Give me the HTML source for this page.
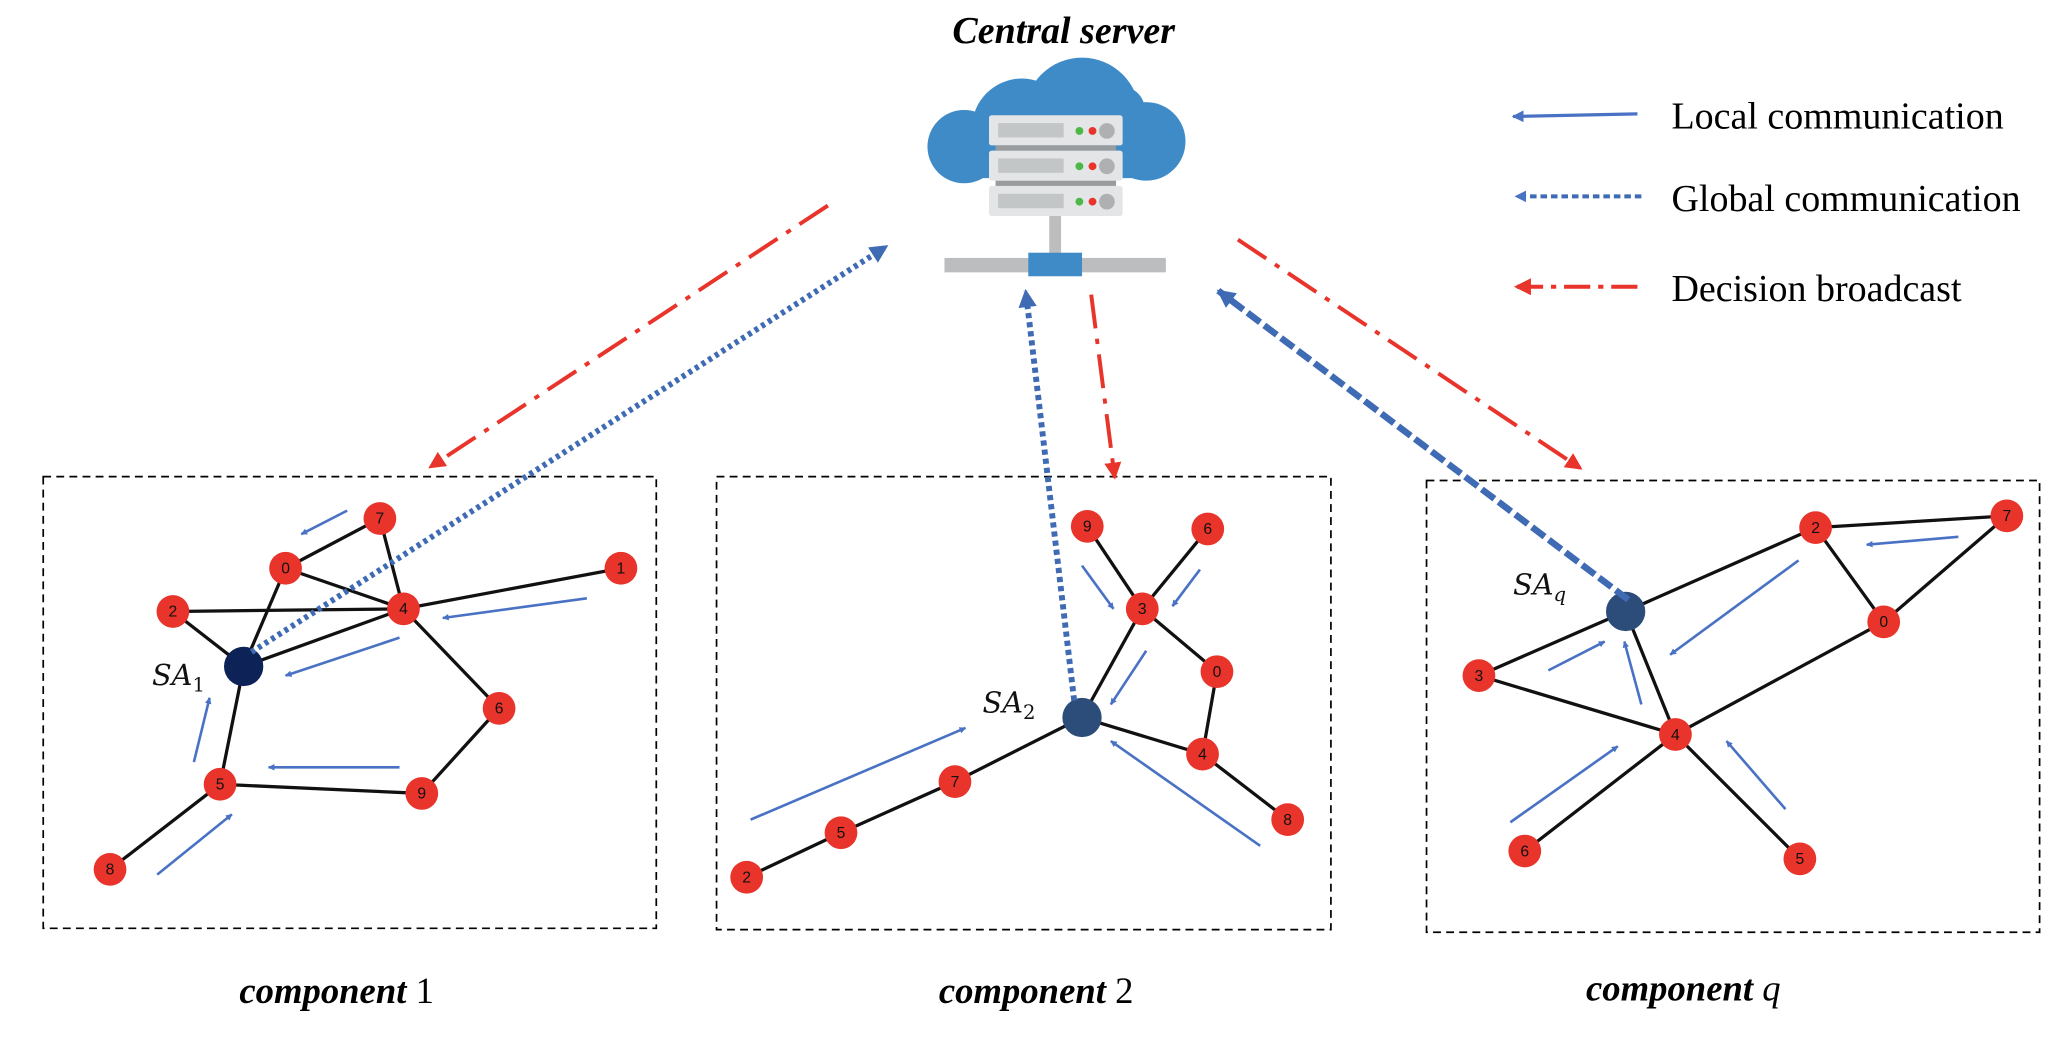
<!DOCTYPE html>
<html><head><meta charset="utf-8"><style>
html,body{margin:0;padding:0;background:#fff;width:2054px;height:1054px;overflow:hidden}
svg{display:block}
.t{font-family:"Liberation Serif",serif}
</style></head><body>
<svg width="2054" height="1054" viewBox="0 0 1568 805" preserveAspectRatio="none" xmlns="http://www.w3.org/2000/svg">
<defs>
<marker id="ab" viewBox="0 0 10 10" refX="9" refY="5" markerWidth="5" markerHeight="5" orient="auto" markerUnits="userSpaceOnUse"><path d="M0,0L10,5L0,10z" fill="#4a72c4"/></marker>
<marker id="ab2" viewBox="0 0 10 10" refX="9" refY="5" markerWidth="14" markerHeight="14" orient="auto" markerUnits="userSpaceOnUse"><path d="M0,0L10,5L0,10z" fill="#3f6bb5"/></marker>
<marker id="ar" viewBox="0 0 10 10" refX="9" refY="5" markerWidth="13" markerHeight="13" orient="auto" markerUnits="userSpaceOnUse"><path d="M0,0L10,5L0,10z" fill="#e8342a"/></marker>
<marker id="al" viewBox="0 0 10 10" refX="9" refY="5" markerWidth="9" markerHeight="9" orient="auto" markerUnits="userSpaceOnUse"><path d="M0,0L10,5L0,10z" fill="#4a72c4"/></marker>
</defs>

<text class="t" x="812" y="33" font-size="29" font-style="italic" font-weight="bold" text-anchor="middle">Central server</text>
<g fill="#3f8bc8">
<circle cx="736" cy="112" r="28"/>
<circle cx="780" cy="98" r="38"/>
<circle cx="826" cy="88" r="44"/>
<circle cx="875" cy="108" r="30"/>
<circle cx="856" cy="84" r="18"/>
<rect x="735" y="100" width="150" height="36" rx="10"/>
</g>
<g>
<rect x="755" y="88" width="102" height="23" rx="2" fill="#e4e5e7"/>
<rect x="755" y="115" width="102" height="23" rx="2" fill="#e4e5e7"/>
<rect x="755" y="142" width="102" height="23" rx="2" fill="#e4e5e7"/>
<rect x="760" y="111" width="92" height="4" fill="#9a9b9d"/>
<rect x="760" y="138" width="92" height="4" fill="#9a9b9d"/>
<g fill="#aeb0b2">
<rect x="762" y="94" width="50" height="11" opacity=".6"/>
<rect x="762" y="121" width="50" height="11" opacity=".6"/>
<rect x="762" y="148" width="50" height="11" opacity=".6"/>
<circle cx="845" cy="100" r="6"/><circle cx="845" cy="127" r="6"/><circle cx="845" cy="154" r="6"/>
</g>
<g fill="#4cb847"><circle cx="824" cy="100" r="3"/><circle cx="824" cy="127" r="3"/><circle cx="824" cy="154" r="3"/></g>
<g fill="#e8342a"><circle cx="834" cy="100" r="3"/><circle cx="834" cy="127" r="3"/><circle cx="834" cy="154" r="3"/></g>
<rect x="801" y="165" width="9" height="32" fill="#bcbdbf"/>
<rect x="721" y="197" width="169" height="11" fill="#bcbdbf"/>
<rect x="785" y="193" width="41" height="18" fill="#3f8bc8"/>
</g>

<line x1="1250" y1="87" x2="1155" y2="89" stroke="#4a72c4" stroke-width="2.5" marker-end="url(#al)"/>
<text class="t" x="1276" y="98" font-size="29">Local communication</text>
<line x1="1253" y1="150" x2="1157" y2="150" stroke="#3f6bb5" stroke-width="3" stroke-dasharray="5,3" marker-end="url(#al)"/>
<text class="t" x="1276" y="161" font-size="29">Global  communication</text>
<line x1="1250" y1="219" x2="1157" y2="219" stroke="#e8342a" stroke-width="3" stroke-dasharray="20,6,4,6" marker-end="url(#ar)"/>
<text class="t" x="1276" y="230" font-size="29">Decision broadcast</text>

<g fill="none" stroke="#000" stroke-width="1.3" stroke-dasharray="6,4">
<rect x="33" y="364" width="468" height="345"/>
<rect x="547" y="364" width="469" height="346"/>
<rect x="1089" y="367" width="468" height="345"/>
</g>

<g stroke="#111" stroke-width="2.5" fill="none">
<line x1="290" y1="396" x2="218" y2="434"/><line x1="290" y1="396" x2="308" y2="465"/>
<line x1="218" y1="434" x2="308" y2="465"/><line x1="218" y1="434" x2="186" y2="509"/>
<line x1="132" y1="467" x2="308" y2="465"/><line x1="132" y1="467" x2="186" y2="509"/>
<line x1="186" y1="509" x2="308" y2="465"/><line x1="308" y1="465" x2="474" y2="434"/>
<line x1="308" y1="465" x2="381" y2="541"/><line x1="381" y1="541" x2="322" y2="606"/>
<line x1="322" y1="606" x2="168" y2="599"/><line x1="168" y1="599" x2="186" y2="509"/>
<line x1="168" y1="599" x2="84" y2="664"/>
<line x1="830" y1="402" x2="872" y2="465"/><line x1="922" y1="404" x2="872" y2="465"/>
<line x1="872" y1="465" x2="929" y2="513"/><line x1="872" y1="465" x2="826" y2="548"/>
<line x1="929" y1="513" x2="918" y2="576"/><line x1="826" y1="548" x2="918" y2="576"/>
<line x1="918" y1="576" x2="983" y2="626"/><line x1="826" y1="548" x2="729" y2="597"/>
<line x1="729" y1="597" x2="642" y2="636"/><line x1="642" y1="636" x2="570" y2="670"/>
<line x1="1386" y1="403" x2="1532" y2="394"/><line x1="1386" y1="403" x2="1438" y2="475"/>
<line x1="1438" y1="475" x2="1532" y2="394"/><line x1="1241" y1="467" x2="1386" y2="403"/>
<line x1="1241" y1="467" x2="1129" y2="516"/><line x1="1129" y1="516" x2="1279" y2="561"/>
<line x1="1241" y1="467" x2="1279" y2="561"/><line x1="1279" y1="561" x2="1438" y2="475"/>
<line x1="1279" y1="561" x2="1164" y2="650"/><line x1="1279" y1="561" x2="1374" y2="656"/>
</g>

<g stroke="#4a72c4" stroke-width="2" marker-end="url(#ab)">
<line x1="265" y1="390" x2="230" y2="408"/><line x1="448" y1="457" x2="338" y2="472"/>
<line x1="305" y1="487" x2="218" y2="516"/><line x1="148" y1="582" x2="160" y2="533"/>
<line x1="305" y1="586" x2="205" y2="586"/><line x1="120" y1="668" x2="177" y2="622"/>
<line x1="826" y1="432" x2="850" y2="465"/><line x1="916" y1="435" x2="895" y2="463"/>
<line x1="875" y1="497" x2="848" y2="538"/><line x1="573" y1="626" x2="737" y2="556"/>
<line x1="962" y1="646" x2="848" y2="566"/>
<line x1="1495" y1="410" x2="1425" y2="416"/><line x1="1373" y1="428" x2="1275" y2="500"/>
<line x1="1182" y1="512" x2="1225" y2="490"/><line x1="1253" y1="538" x2="1240" y2="490"/>
<line x1="1153" y1="628" x2="1235" y2="570"/><line x1="1363" y1="618" x2="1318" y2="566"/>
</g>

<g fill="#e8342a">
<circle cx="290" cy="396" r="12.5"/><circle cx="218" cy="434" r="12.5"/><circle cx="474" cy="434" r="12.5"/>
<circle cx="132" cy="467" r="12.5"/><circle cx="308" cy="465" r="12.5"/><circle cx="381" cy="541" r="12.5"/>
<circle cx="168" cy="599" r="12.5"/><circle cx="322" cy="606" r="12.5"/><circle cx="84" cy="664" r="12.5"/>
<circle cx="830" cy="402" r="12.5"/><circle cx="922" cy="404" r="12.5"/><circle cx="872" cy="465" r="12.5"/>
<circle cx="929" cy="513" r="12.5"/><circle cx="918" cy="576" r="12.5"/><circle cx="983" cy="626" r="12.5"/>
<circle cx="729" cy="597" r="12.5"/><circle cx="642" cy="636" r="12.5"/><circle cx="570" cy="670" r="12.5"/>
<circle cx="1532" cy="394" r="12.5"/><circle cx="1386" cy="403" r="12.5"/><circle cx="1438" cy="475" r="12.5"/>
<circle cx="1129" cy="516" r="12.5"/><circle cx="1279" cy="561" r="12.5"/><circle cx="1164" cy="650" r="12.5"/>
<circle cx="1374" cy="656" r="12.5"/>
</g>
<g font-family="Liberation Sans, sans-serif" font-size="12" fill="#111" text-anchor="middle">
<text x="290" y="400">7</text><text x="218" y="438">0</text><text x="474" y="438">1</text>
<text x="132" y="471">2</text><text x="308" y="469">4</text><text x="381" y="545">6</text>
<text x="168" y="603">5</text><text x="322" y="610">9</text><text x="84" y="668">8</text>
<text x="830" y="406">9</text><text x="922" y="408">6</text><text x="872" y="469">3</text>
<text x="929" y="517">0</text><text x="918" y="580">4</text><text x="983" y="630">8</text>
<text x="729" y="601">7</text><text x="642" y="640">5</text><text x="570" y="674">2</text>
<text x="1532" y="398">7</text><text x="1386" y="407">2</text><text x="1438" y="479">0</text>
<text x="1129" y="520">3</text><text x="1279" y="565">4</text><text x="1164" y="654">6</text>
<text x="1374" y="660">5</text>
</g>
<circle cx="186" cy="509" r="15" fill="#0d2257"/>
<circle cx="826" cy="548" r="15" fill="#2c4d7a"/>
<circle cx="1241" cy="467" r="15" fill="#2c4d7a"/>

<g font-family="DejaVu Serif, serif" font-style="italic" font-size="22" fill="#111">
<text x="116" y="523">SA<tspan font-size="15" dy="5" font-style="normal">1</tspan></text>
<text x="750" y="544">SA<tspan font-size="15" dy="5" font-style="normal">2</tspan></text>
<text x="1155" y="454">SA<tspan font-size="15" dy="5">q</tspan></text>
</g>

<line x1="632" y1="157" x2="328" y2="357" stroke="#e8342a" stroke-width="3" stroke-dasharray="26,8,4,8" marker-end="url(#ar)"/>
<line x1="833" y1="225" x2="851" y2="365" stroke="#e8342a" stroke-width="3" stroke-dasharray="26,8,4,8" marker-end="url(#ar)"/>
<line x1="945" y1="183" x2="1207" y2="358" stroke="#e8342a" stroke-width="3" stroke-dasharray="26,8,4,8" marker-end="url(#ar)"/>
<line x1="192" y1="498" x2="677" y2="188" stroke="#3f6bb5" stroke-width="4.5" stroke-dasharray="3,3" marker-end="url(#ab2)"/>
<line x1="820" y1="535" x2="783" y2="222" stroke="#3f6bb5" stroke-width="4.5" stroke-dasharray="4,3" marker-end="url(#ab2)"/>
<line x1="1243" y1="458" x2="930" y2="222" stroke="#3f6bb5" stroke-width="5" stroke-dasharray="12,4" marker-end="url(#ab2)"/>

<g class="t" font-size="28" text-anchor="middle">
<text x="257" y="766"><tspan font-style="italic" font-weight="bold">component</tspan> 1</text>
<text x="791" y="766"><tspan font-style="italic" font-weight="bold">component</tspan> 2</text>
<text x="1285" y="764"><tspan font-style="italic" font-weight="bold">component</tspan> <tspan font-style="italic">q</tspan></text>
</g>
</svg>
</body></html>
